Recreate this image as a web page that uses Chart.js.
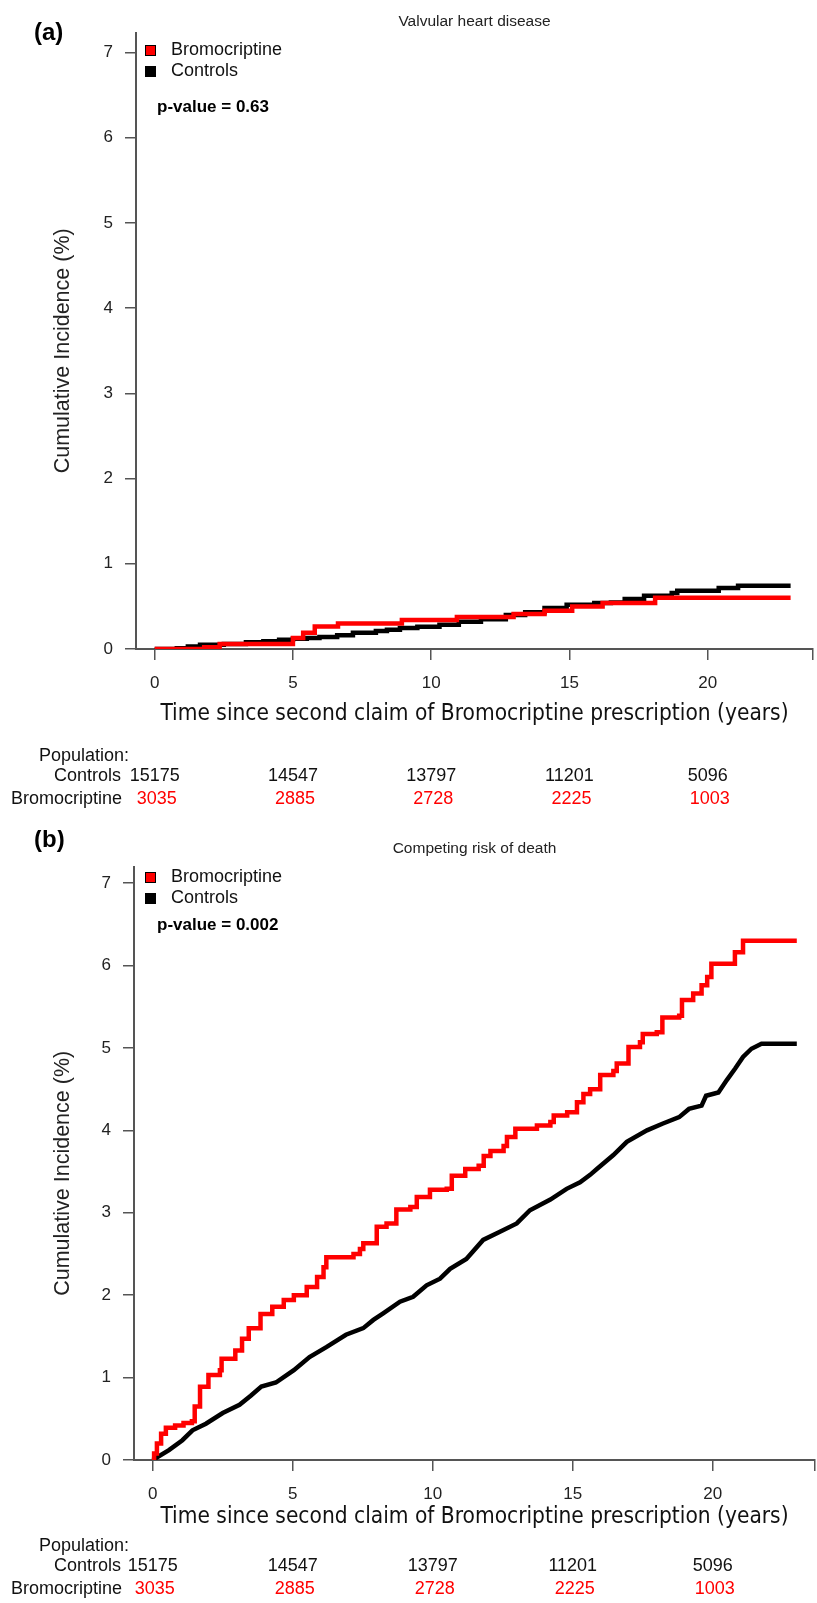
<!DOCTYPE html>
<html>
<head>
<meta charset="utf-8">
<script src="https://cdn.jsdelivr.net/npm/chart.js@4.4.1/dist/chart.umd.min.js"></script>
<style>
    html, body { margin: 0; padding: 0; background: #fff; }
    #wrap { position: relative; width: 817px; height: 1603px; overflow: hidden; }
    canvas { position: absolute; left: 0; }
</style>
</head>
<body>
<div id="wrap">
    <canvas id="chartA" width="817" height="830" style="top:0px"></canvas>
    <canvas id="chartB" width="817" height="773" style="top:830px"></canvas>
</div>
<script>
const xTicks = [0, 5, 10, 15, 20];
const yTicks = [0, 1, 2, 3, 4, 5, 6, 7];
const seriesNames = ['Bromocriptine', 'Controls'];
const popControls = [15175, 14547, 13797, 11201, 5096];
const popBromo = [3035, 2885, 2728, 2225, 1003];

// (a) Valvular heart disease
const valvBromoTime = [0, 1.79, 2.35, 5.0, 5.37, 5.79, 6.63, 8.94, 10.93, 12.98, 14.1, 15.1, 16.2, 18.1, 23];
const valvBromoInc = [0, 0.02, 0.06, 0.13, 0.19, 0.265, 0.30, 0.34, 0.375, 0.41, 0.45, 0.50, 0.54, 0.60, 0.60];
const valvCtrlTime = [0, 0.8, 1.2, 1.64, 2.5, 3.3, 3.93, 4.5, 5.0, 5.5, 5.96, 6.6, 7.17, 8.0, 8.4, 8.87, 9.5, 10.3, 11.0, 11.8, 12.7, 13.4, 14.1, 14.9, 15.9, 16.5, 17.0, 17.7, 18.7, 18.9, 20.4, 21.1, 23];
const valvCtrlInc = [0, 0.01, 0.03, 0.05, 0.06, 0.08, 0.09, 0.11, 0.12, 0.13, 0.14, 0.16, 0.19, 0.21, 0.226, 0.245, 0.26, 0.285, 0.32, 0.35, 0.40, 0.43, 0.48, 0.52, 0.54, 0.545, 0.586, 0.625, 0.656, 0.683, 0.715, 0.742, 0.742];

// (b) Competing risk of death
const deathBromoTime = [0, 0.05, 0.15, 0.3, 0.47, 0.8, 1.1, 1.4, 1.5, 1.69, 1.99, 2.4, 2.46, 2.95, 3.19, 3.43, 3.85, 4.27, 4.68, 5.04, 5.5, 5.87, 6.1, 6.2, 7.17, 7.4, 7.52, 8.0, 8.35, 8.7, 9.2, 9.43, 9.9, 10.5, 10.68, 11.16, 11.64, 11.82, 12.06, 12.53, 12.65, 12.95, 13.72, 14.2, 14.32, 14.8, 15.15, 15.38, 15.62, 15.98, 16.45, 16.57, 16.99, 17.4, 17.5, 18.0, 18.2, 18.8, 18.9, 19.3, 19.6, 19.8, 19.95, 20.79, 21.08, 23];
const deathBromoInc = [0, 0.08, 0.2, 0.32, 0.39, 0.42, 0.45, 0.47, 0.65, 0.89, 1.03, 1.09, 1.23, 1.33, 1.47, 1.6, 1.77, 1.86, 1.94, 2.0, 2.1, 2.22, 2.34, 2.46, 2.5, 2.56, 2.63, 2.83, 2.87, 3.04, 3.07, 3.19, 3.28, 3.29, 3.45, 3.53, 3.57, 3.69, 3.75, 3.81, 3.92, 4.02, 4.06, 4.1, 4.18, 4.22, 4.34, 4.44, 4.5, 4.67, 4.72, 4.81, 5.01, 5.07, 5.17, 5.19, 5.37, 5.39, 5.58, 5.66, 5.76, 5.86, 6.02, 6.16, 6.3, 6.3];
const deathCtrlTime = [0, 0.58, 1.06, 1.42, 1.9, 2.5, 3.1, 3.5, 3.88, 4.4, 5.04, 5.6, 6.2, 6.9, 7.52, 7.88, 8.23, 8.83, 9.3, 9.78, 10.26, 10.62, 11.2, 11.8, 12.4, 13.0, 13.47, 14.2, 14.78, 15.26, 15.62, 15.86, 16.45, 16.93, 17.65, 18.2, 18.8, 19.15, 19.6, 19.76, 20.2, 20.5, 20.8, 21.08, 21.38, 21.74, 23];
const deathCtrlInc = [0, 0.12, 0.24, 0.36, 0.44, 0.57, 0.67, 0.78, 0.89, 0.94, 1.09, 1.25, 1.37, 1.52, 1.6, 1.7, 1.78, 1.92, 1.98, 2.12, 2.2, 2.32, 2.44, 2.67, 2.77, 2.87, 3.03, 3.16, 3.29, 3.37, 3.46, 3.53, 3.7, 3.86, 4.0, 4.08, 4.16, 4.26, 4.3, 4.42, 4.46, 4.61, 4.75, 4.89, 4.99, 5.05, 5.05];

const FONT = "'Liberation Sans', Arial, sans-serif";
const RED = '#ff0000';
const AXIS = '#555555';

Chart.defaults.font.family = FONT;
Chart.defaults.color = '#222';

function pts(t, v) {
    return t.map((x, i) => ({ x: x, y: v[i] }));
}

// extra text: panel letter, y title, legend, p-value and the population table
const annotate = {
    id: 'annotate',
    afterDraw(chart, args, o) {
        const ctx = chart.ctx;
        const xs = chart.scales.x;
        const area = chart.chartArea;
        ctx.save();
        ctx.textBaseline = 'middle';

        ctx.fillStyle = '#000';
        ctx.textAlign = 'left';
        ctx.font = 'bold 24px ' + FONT;
        ctx.fillText(o.letter, 34, o.letterY);

        // y axis title, sits a little below the middle of the plot
        ctx.save();
        ctx.translate(63, (area.top + area.bottom) / 2 + 10);
        ctx.rotate(-Math.PI / 2);
        ctx.textAlign = 'center';
        ctx.font = '21.5px ' + FONT;
        ctx.fillStyle = '#222';
        ctx.fillText('Cumulative Incidence (%)', 0, 0);
        ctx.restore();

        // legend
        const colors = [RED, '#000'];
        ctx.font = '18px ' + FONT;
        seriesNames.forEach((name, i) => {
            const y = o.legendY + i * 21;
            ctx.fillStyle = colors[i];
            ctx.fillRect(145, y - 5, 11, 11);
            ctx.strokeStyle = '#000';
            ctx.lineWidth = 1;
            ctx.strokeRect(145.5, y - 4.5, 10, 10);
            ctx.fillStyle = '#111';
            ctx.fillText(name, 171, y);
        });

        ctx.font = 'bold 17px ' + FONT;
        ctx.fillStyle = '#000';
        ctx.fillText(o.pValue, 157, o.pY);

        // population at risk
        ctx.font = '18px ' + FONT;
        ctx.fillStyle = '#111';
        ctx.fillText('Population:', 39, o.popY);
        ctx.textAlign = 'right';
        ctx.fillText('Controls', 121, o.popY + 20);
        ctx.fillText('Bromocriptine', 122, o.popY + 43);
        ctx.textAlign = 'center';
        xTicks.forEach((t, i) => {
            const x = xs.getPixelForValue(t);
            ctx.fillStyle = '#111';
            ctx.fillText(String(popControls[i]), x, o.popY + 20);
            ctx.fillStyle = RED;
            ctx.fillText(String(popBromo[i]), x + 2, o.popY + 43);
        });
        ctx.restore();
    }
};

function makePanel(id, cfg) {
    const ctx = document.getElementById(id).getContext('2d');
    return new Chart(ctx, {
        type: 'line',
        data: {
            datasets: [
                {
                    label: seriesNames[0],
                    data: pts(cfg.bromoT, cfg.bromoY),
                    borderColor: RED,
                    borderWidth: 4.5,
                    stepped: true,
                    pointRadius: 0,
                    fill: false
                },
                {
                    label: seriesNames[1],
                    data: pts(cfg.ctrlT, cfg.ctrlY),
                    borderColor: '#000',
                    borderWidth: 4.5,
                    stepped: cfg.ctrlStepped,
                    tension: 0,
                    pointRadius: 0,
                    fill: false
                }
            ]
        },
        options: {
            responsive: false,
            animation: false,
            devicePixelRatio: 1,
            layout: {
                padding: { left: 0, top: 0, right: 817 - cfg.right, bottom: cfg.padBottom }
            },
            plugins: {
                legend: { display: false },
                tooltip: { enabled: false },
                title: {
                    display: true,
                    text: cfg.title,
                    fullSize: false,
                    color: '#222',
                    font: { size: 15.5, weight: 'normal' },
                    padding: { top: cfg.titleTop, bottom: cfg.titleBottom }
                },
                annotate: cfg.notes
            },
            scales: {
                x: {
                    type: 'linear',
                    min: cfg.xMin,
                    max: cfg.xMax,
                    afterBuildTicks: (s) => { s.ticks = xTicks.concat([cfg.xMax]).map(v => ({ value: v })); },
                    afterFit: (s) => { s.height = cfg.xHeight; },
                    ticks: {
                        autoSkip: false,
                        maxRotation: 0,
                        // small padding keeps the plot's right edge in place; line height sets the label drop
                        padding: 2,
                        color: '#222',
                        font: { size: 17, lineHeight: 2.45 },
                        callback: (v) => (xTicks.includes(v) ? String(v) : '')
                    },
                    grid: { drawOnChartArea: false, drawTicks: true, tickLength: 11, color: AXIS, lineWidth: 1.5 },
                    border: { display: true, color: AXIS, width: 2 },
                    title: {
                        display: true,
                        text: 'Time since second claim of Bromocriptine prescription (years)',
                        color: '#111',
                        font: { family: "'Liberation Sans Narrow', 'DejaVu Sans Condensed', sans-serif", size: 22.5 },
                        padding: { top: 0, bottom: 0 }
                    }
                },
                y: {
                    type: 'linear',
                    min: 0,
                    max: cfg.yMax,
                    afterBuildTicks: (s) => { s.ticks = yTicks.map(v => ({ value: v })); },
                    afterFit: (s) => { s.width = cfg.left; },
                    ticks: { padding: 12, color: '#222', font: { size: 17 } },
                    grid: { drawOnChartArea: false, drawTicks: true, tickLength: 11, color: AXIS, lineWidth: 1.5 },
                    border: { display: true, color: AXIS, width: 2 },
                    title: { display: false }
                }
            }
        },
        plugins: [annotate]
    });
}

makePanel('chartA', {
    title: 'Valvular heart disease',
    bromoT: valvBromoTime, bromoY: valvBromoInc,
    ctrlT: valvCtrlTime, ctrlY: valvCtrlInc,
    ctrlStepped: true,
    left: 136, right: 813,
    xMin: -0.676, xMax: 23.81,
    yMax: 7.234,
    titleTop: 12, titleBottom: 2,
    xHeight: 79, padBottom: 102,
    notes: { letter: '(a)', letterY: 33, legendY: 50, pValue: 'p-value = 0.63', pY: 107, popY: 756 }
});

makePanel('chartB', {
    title: 'Competing risk of death',
    bromoT: deathBromoTime, bromoY: deathBromoInc,
    ctrlT: deathCtrlTime, ctrlY: deathCtrlInc,
    ctrlStepped: false,
    left: 134, right: 815,
    xMin: -0.668, xMax: 23.65,
    yMax: 7.2,
    titleTop: 9, titleBottom: 9,
    xHeight: 71, padBottom: 72,
    notes: { letter: '(b)', letterY: 10, legendY: 47, pValue: 'p-value = 0.002', pY: 95, popY: 716 }
});
</script>
</body>
</html>
